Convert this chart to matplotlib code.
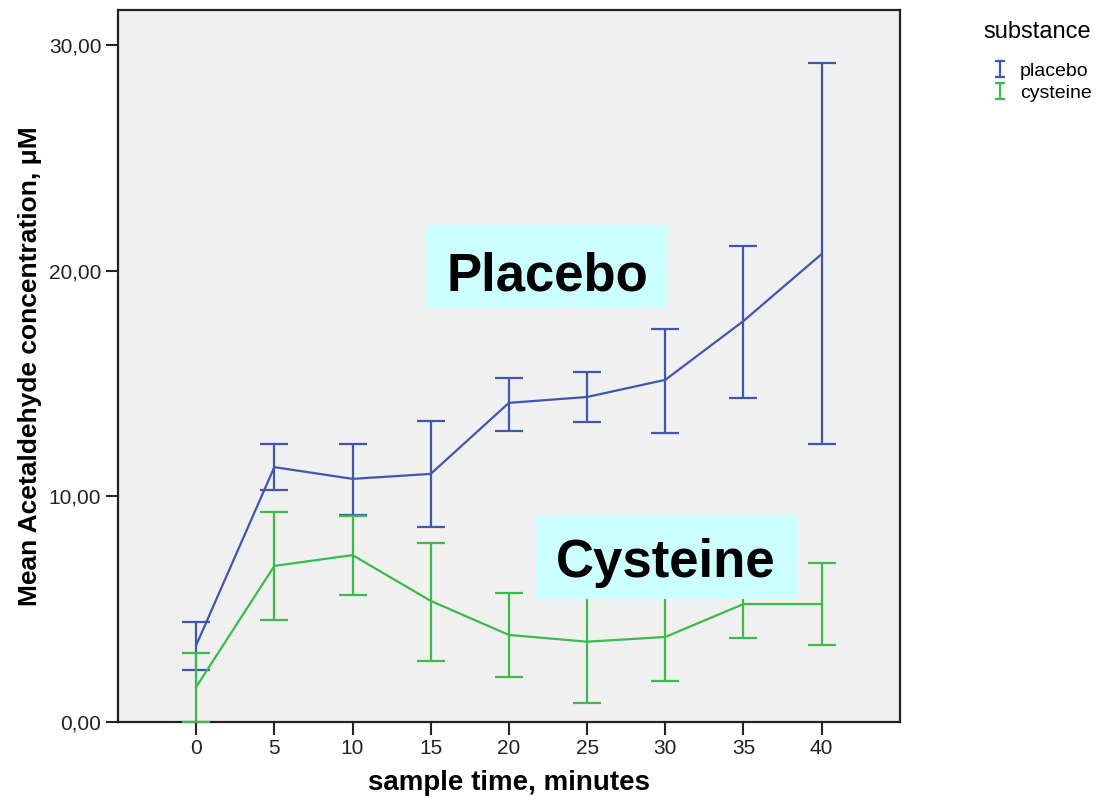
import numpy as np
import matplotlib.pyplot as plt
from matplotlib.path import Path
from matplotlib.lines import Line2D
from matplotlib.patches import Rectangle

plt.rcParams['font.family'] = ['Liberation Sans', 'DejaVu Sans']

# sample times (minutes)
times = [0, 5, 10, 15, 20, 25, 30, 35, 40]

# placebo: mean and 95% CI bounds
placebo_mean = [3.4, 11.3, 10.78, 11.0, 14.15, 14.41, 15.17, 17.78, 20.75]
placebo_low = [2.3, 10.29, 9.18, 8.65, 12.9, 13.3, 12.82, 14.37, 12.33]
placebo_high = [4.43, 12.33, 12.33, 13.35, 15.25, 15.52, 17.43, 21.1, 29.2]

# cysteine: mean and 95% CI bounds
cyst_mean = [1.55, 6.92, 7.4, 5.37, 3.86, 3.56, 3.77, 5.23, 5.23]
cyst_low = [0.0, 4.52, 5.63, 2.7, 2.0, 0.86, 1.82, 3.72, 3.43]
cyst_high = [3.06, 9.31, 9.14, 7.94, 5.72, 6.26, 5.7, 6.75, 7.07]

yticks = [0, 10, 20, 30]
ytick_labels = ['0,00', '10,00', '20,00', '30,00']

blue = '#3f57ad'
green = '#3bbb4a'

fig = plt.figure(figsize=(11.17, 7.97), dpi=100)
ax = fig.add_axes([0.1056, 0.0941, 0.700, 0.8934])
ax.set_facecolor('#f0f0f0')

for mean, lo, hi, col in [(placebo_mean, placebo_low, placebo_high, blue),
                          (cyst_mean, cyst_low, cyst_high, green)]:
    mean = np.array(mean)
    err = [mean - np.array(lo), np.array(hi) - mean]
    ax.errorbar(times, mean, yerr=err, color=col, lw=1.6, elinewidth=1.6,
                capsize=10, capthick=1.6, zorder=3)

# label boxes
ax.add_patch(Rectangle((14.7, 18.36), 15.5, 3.68, facecolor='#ccffff',
                       edgecolor='none', zorder=4))
ax.text(22.45, 19.15, 'Placebo', fontsize=38, fontweight='bold',
        ha='center', va='baseline', zorder=5)
ax.add_patch(Rectangle((21.7, 5.45), 16.7, 3.73, facecolor='#ccffff',
                       edgecolor='none', zorder=4))
ax.text(30.05, 6.43, 'Cysteine', fontsize=38, fontweight='bold',
        ha='center', va='baseline', zorder=5)

ax.set_xlim(-5, 45)
ax.set_ylim(0, 31.57)
ax.set_xticks(times)
ax.set_yticks(yticks)
ax.set_yticklabels(ytick_labels)
ax.tick_params(direction='out', length=9, width=1.5, labelsize=15, pad=3,
               colors='#222222')
for s in ax.spines.values():
    s.set_linewidth(1.6)
    s.set_color('#222222')

ax.set_xlabel('sample time, minutes', fontsize=20, fontweight='bold', labelpad=9)
ax.set_ylabel('Mean Acetaldehyde concentration, μM', fontsize=19,
              fontweight='bold', labelpad=5)

# legend with error-bar glyph
fig.text(0.880, 0.96, 'substance', fontsize=17, va='center', ha='left')
ibar = Path([(-0.6, 1), (0.6, 1), (0, 1), (0, -1), (-0.6, -1), (0.6, -1)],
            [Path.MOVETO, Path.LINETO, Path.MOVETO, Path.LINETO,
             Path.MOVETO, Path.LINETO])
handles = [Line2D([], [], ls='none', marker=ibar, markersize=12, mew=1.6,
                  color=blue),
           Line2D([], [], ls='none', marker=ibar, markersize=12, mew=1.6,
                  color=green)]
fig.legend(handles, ['placebo', 'cysteine'], loc='upper left',
           bbox_to_anchor=(0.888, 0.922), frameon=False, fontsize=14,
           borderpad=0, borderaxespad=0, handlelength=0.8,
           handletextpad=0.64, labelspacing=0.25)

fig.savefig('out.png', dpi=100)
